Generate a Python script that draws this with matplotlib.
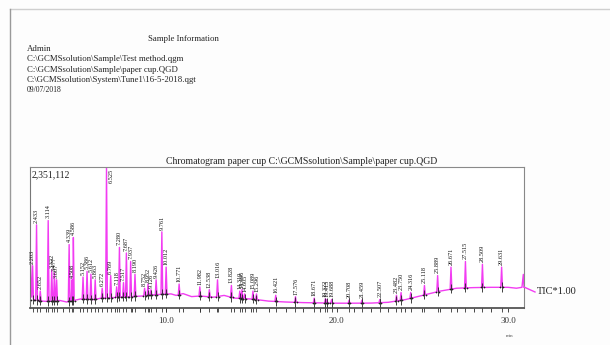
import numpy as np
import matplotlib
matplotlib.use("Agg")
import matplotlib.pyplot as plt
from matplotlib.lines import Line2D

YMAX = 2351112

# ---- data ----
header_lines = ["Admin",
                r"C:\GCMSsolution\Sample\Test method.qgm",
                r"C:\GCMSsolution\Sample\paper cup.QGD",
                r"C:\GCMSsolution\System\Tune1\16-5-2018.qgt",
                "09/07/2018"]
title = r"Chromatogram paper cup C:\GCMSsolution\Sample\paper cup.QGD"

peak_labels = ["2.203", "2.433", "2.652", "3.114", "3.322", "3.477", "3.607",
               "4.339", "4.508", "4.586", "5.152", "5.386", "5.612", "5.863",
               "6.272", "6.525", "6.769", "7.118", "7.280", "7.517", "7.687",
               "7.937", "8.190", "8.752", "8.952", "9.126", "9.426", "9.761",
               "10.012", "10.771", "11.982", "12.538", "13.016", "13.828",
               "14.319", "14.446", "14.605", "15.089", "15.296", "16.421",
               "17.576", "18.671", "19.322", "19.415", "19.688", "20.708",
               "21.459", "22.507", "23.482", "23.750", "24.316", "25.118",
               "25.889", "26.671", "27.515", "28.509", "29.631"]
peak_times = [float(s) for s in peak_labels]
peak_tops = [705000, 1387000, 282000, 1458000, 635000, 588000, 470000,
             1058000, 470000, 1176000, 517000, 611000, 564000, 470000,
             329000, 2351112, 540000, 353000, 1011000, 423000, 917000,
             776000, 564000, 329000, 400000, 306000, 470000,
             1270000, 682000, 400000, 353000, 306000, 470000, 376000,
             282000, 306000, 235000, 282000, 235000, 212000,
             188000, 165000, 153000, 141000, 141000, 130000,
             130000, 141000, 212000, 259000, 259000, 376000,
             541000, 682000, 776000, 729000, 682000]

base_t = [2.05, 2.10, 2.16, 2.6, 3.0, 3.8, 4.2, 5.0, 5.8, 6.2, 7.0, 8.0, 8.6,
          9.0, 9.5, 10.3, 10.6, 11.0, 11.5, 12.0, 12.8, 13.4, 14.0, 15.0,
          15.6, 16.0, 17.0, 18.0, 19.0, 20.0, 21.0, 22.0, 23.0, 24.0, 25.0,
          26.0, 27.0, 28.0, 29.0, 30.0, 30.5, 30.82, 30.9, 30.94]
base_v = [1180000, 500000, 140000, 120000, 110000, 125000, 100000, 150000,
          140000, 165000, 175000, 190000, 200000, 215000, 225000, 235000,
          210000, 240000, 190000, 200000, 180000, 210000, 165000, 150000,
          130000, 115000, 100000, 90000, 85000, 80000, 80000, 82000, 95000,
          140000, 210000, 280000, 330000, 340000, 345000, 345000, 330000,
          345000, 560000, 350000]

x_major = [10, 20, 30]

# ---- figure ----
fig = plt.figure(figsize=(6.1, 3.45), dpi=100, facecolor="#fdfdfd")
serif = ["Liberation Serif", "DejaVu Serif"]

# page border
fig.add_artist(Line2D([10/610, 1], [1-9/345, 1-9/345], transform=fig.transFigure,
                      color="#cfcfcf", lw=1))
fig.add_artist(Line2D([10/610, 10/610], [1-9/345, 0], transform=fig.transFigure,
                      color="#9a9a9a", lw=1))

fig.text(183/610, 1-39/345, "Sample Information", ha="center", va="center",
         fontsize=6.3, family=serif, color="#222")
ys = [49, 59, 70, 80, 90]
for s, y in zip(header_lines, ys):
    fig.text(27/610, 1-y/345, s, ha="left", va="center",
             fontsize=6.3 if y < 90 else 5.5, family=serif, color="#222")

ax = fig.add_axes([30/610, 1-308/345, 494/610, 141/345])
ax.set_facecolor("white")
ax.set_xlim(2.05, 30.94)
ax.set_ylim(0, YMAX)

# build trace
bt = np.array(base_t)
bv = np.array(base_v, dtype=float)
pts = []
pt = np.array(peak_times)
for t, v in zip(bt, bv):
    if np.all(np.abs(pt - t) > 0.06):
        pts.append((t, v))
hw = 0.05
for t, top in zip(peak_times, peak_tops):
    pts.append((t - hw, np.interp(t - hw, bt, bv)))
    pts.append((t, top))
    pts.append((t + hw, np.interp(t + hw, bt, bv)))
pts.sort()
tx = [p[0] for p in pts]
ty = [p[1] for p in pts]
ax.plot(tx, ty, color="#f23cf2", lw=1.0, zorder=2)

# integration marks and labels
for t, top, lbl in zip(peak_times, peak_tops, peak_labels):
    b = np.interp(t, bt, bv)
    ax.vlines(t, b - 0.03*YMAX, b + 0.035*YMAX, color="#222", lw=0.6, zorder=3)
    ax.vlines(t, -0.03*YMAX, 0, color="#333", lw=0.6, clip_on=False, zorder=3)
    ax.plot([t - 0.07, t + 0.07], [b, b], ls="none", marker="+", ms=2.0,
            mew=0.5, color="#222", zorder=3)
    if top >= YMAX:
        ax.text(t + 0.12, YMAX*0.985, lbl, rotation=90, ha="left", va="top",
                fontsize=4.5, family=serif, color="#111")
    else:
        ax.annotate(lbl, (t, top), xytext=(0, 1.5), textcoords="offset points",
                    rotation=90, ha="center", va="bottom", fontsize=4.5,
                    family=serif, color="#111", annotation_clip=False)

ax.text(0.004, 0.975, "2,351,112", transform=ax.transAxes, ha="left", va="top",
        fontsize=7, family=serif, color="#222")

ax.set_xticks(x_major)
ax.set_xticklabels([f"{v:.1f}" for v in x_major], family=serif, fontsize=6.5,
                   color="#333")
ax.set_xticks(np.arange(3, 31, 1), minor=True)
ax.tick_params(axis="x", which="both", direction="out", length=3, width=0.7,
               color="#444", pad=3.5)
ax.set_yticks([])
for side, c, w in [("left", "#777", 0.8), ("top", "#8a8a8a", 0.8),
                   ("right", "#888", 0.8), ("bottom", "#555", 1.3)]:
    ax.spines[side].set_color(c)
    ax.spines[side].set_linewidth(w)

fig.text(302/610, 1-165.5/345, title, ha="center", va="bottom", fontsize=7,
         family=serif, color="#222")
fig.text(510/610, 1-336/345, "min", ha="center", va="center", fontsize=3.5,
         family=serif, color="#444")

fig.add_artist(Line2D([524/610, 535/610], [1-287/345, 1-292/345],
                      transform=fig.transFigure, color="#f23cf2", lw=1.0))
fig.text(537/610, 1-292/345, "TIC*1.00", ha="left", va="center", fontsize=7.5,
         family=serif, color="#222")

fig.savefig("out.png", dpi=100, facecolor=fig.get_facecolor())
